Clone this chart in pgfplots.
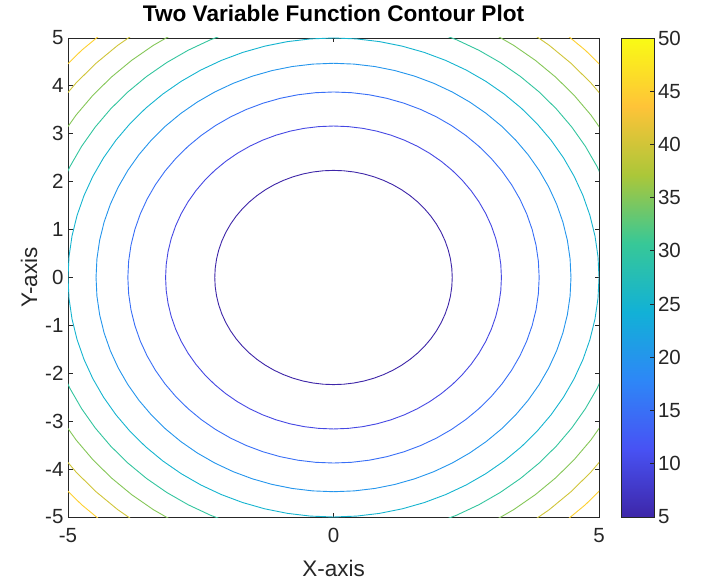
\documentclass[border=0pt]{standalone}
\usepackage{pgfplots}
\pgfplotsset{compat=1.18}
\usepackage{pgfplotstable}
\usepackage{fontspec}
\setmainfont{Liberation Sans}
\definecolor{axgray}{rgb}{0.15,0.15,0.15}
\definecolor{c5}{rgb}{0.2422,0.1504,0.6603}
\definecolor{c10}{rgb}{0.2724,0.2845,0.8918}
\definecolor{c15}{rgb}{0.2241,0.4374,0.9636}
\definecolor{c20}{rgb}{0.1421,0.5842,0.9253}
\definecolor{c25}{rgb}{0.0852,0.7047,0.8120}
\definecolor{c30}{rgb}{0.1998,0.7744,0.6197}
\definecolor{c35}{rgb}{0.5200,0.7811,0.3458}
\definecolor{c40}{rgb}{0.8162,0.7734,0.2225}
\definecolor{c45}{rgb}{0.9925,0.8143,0.1890}
\pgfplotsset{colormap={parula}{rgb=(0.2422,0.1504,0.6603) rgb=(0.2810,0.3228,0.9579) rgb=(0.1786,0.5289,0.9682) rgb=(0.0689,0.6948,0.8394) rgb=(0.2161,0.7843,0.5923) rgb=(0.6720,0.7793,0.2227) rgb=(0.9970,0.7659,0.2199) rgb=(0.9769,0.9839,0.0805)}}
% contour lines of f(x,y): angle (deg) and radius of each level (polar form)
\pgfplotstableread{
a   l5     l10    l15    l20    l25 l30    l35    l40    l45
0   2.2361 3.1623 3.8730 4.4721 5   5.4772 5.9161 6.3246 6.7082
5   2.2361 3.1623 3.8730 4.4721 5   5.4772 5.9161 6.3246 6.7082
10  2.2361 3.1623 3.8730 4.4721 5   5.4772 5.9161 6.3246 6.7082
15  2.2361 3.1623 3.8730 4.4721 5   5.4772 5.9161 6.3246 6.7082
20  2.2361 3.1623 3.8730 4.4721 5   5.4772 5.9161 6.3246 6.7082
25  2.2361 3.1623 3.8730 4.4721 5   5.4772 5.9161 6.3246 6.7082
30  2.2361 3.1623 3.8730 4.4721 5   5.4772 5.9161 6.3246 6.7082
35  2.2361 3.1623 3.8730 4.4721 5   5.4772 5.9161 6.3246 6.7082
40  2.2361 3.1623 3.8730 4.4721 5   5.4772 5.9161 6.3246 6.7082
45  2.2361 3.1623 3.8730 4.4721 5   5.4772 5.9161 6.3246 6.7082
50  2.2361 3.1623 3.8730 4.4721 5   5.4772 5.9161 6.3246 6.7082
55  2.2361 3.1623 3.8730 4.4721 5   5.4772 5.9161 6.3246 6.7082
60  2.2361 3.1623 3.8730 4.4721 5   5.4772 5.9161 6.3246 6.7082
65  2.2361 3.1623 3.8730 4.4721 5   5.4772 5.9161 6.3246 6.7082
70  2.2361 3.1623 3.8730 4.4721 5   5.4772 5.9161 6.3246 6.7082
75  2.2361 3.1623 3.8730 4.4721 5   5.4772 5.9161 6.3246 6.7082
80  2.2361 3.1623 3.8730 4.4721 5   5.4772 5.9161 6.3246 6.7082
85  2.2361 3.1623 3.8730 4.4721 5   5.4772 5.9161 6.3246 6.7082
90  2.2361 3.1623 3.8730 4.4721 5   5.4772 5.9161 6.3246 6.7082
95  2.2361 3.1623 3.8730 4.4721 5   5.4772 5.9161 6.3246 6.7082
100 2.2361 3.1623 3.8730 4.4721 5   5.4772 5.9161 6.3246 6.7082
105 2.2361 3.1623 3.8730 4.4721 5   5.4772 5.9161 6.3246 6.7082
110 2.2361 3.1623 3.8730 4.4721 5   5.4772 5.9161 6.3246 6.7082
115 2.2361 3.1623 3.8730 4.4721 5   5.4772 5.9161 6.3246 6.7082
120 2.2361 3.1623 3.8730 4.4721 5   5.4772 5.9161 6.3246 6.7082
125 2.2361 3.1623 3.8730 4.4721 5   5.4772 5.9161 6.3246 6.7082
130 2.2361 3.1623 3.8730 4.4721 5   5.4772 5.9161 6.3246 6.7082
135 2.2361 3.1623 3.8730 4.4721 5   5.4772 5.9161 6.3246 6.7082
140 2.2361 3.1623 3.8730 4.4721 5   5.4772 5.9161 6.3246 6.7082
145 2.2361 3.1623 3.8730 4.4721 5   5.4772 5.9161 6.3246 6.7082
150 2.2361 3.1623 3.8730 4.4721 5   5.4772 5.9161 6.3246 6.7082
155 2.2361 3.1623 3.8730 4.4721 5   5.4772 5.9161 6.3246 6.7082
160 2.2361 3.1623 3.8730 4.4721 5   5.4772 5.9161 6.3246 6.7082
165 2.2361 3.1623 3.8730 4.4721 5   5.4772 5.9161 6.3246 6.7082
170 2.2361 3.1623 3.8730 4.4721 5   5.4772 5.9161 6.3246 6.7082
175 2.2361 3.1623 3.8730 4.4721 5   5.4772 5.9161 6.3246 6.7082
180 2.2361 3.1623 3.8730 4.4721 5   5.4772 5.9161 6.3246 6.7082
185 2.2361 3.1623 3.8730 4.4721 5   5.4772 5.9161 6.3246 6.7082
190 2.2361 3.1623 3.8730 4.4721 5   5.4772 5.9161 6.3246 6.7082
195 2.2361 3.1623 3.8730 4.4721 5   5.4772 5.9161 6.3246 6.7082
200 2.2361 3.1623 3.8730 4.4721 5   5.4772 5.9161 6.3246 6.7082
205 2.2361 3.1623 3.8730 4.4721 5   5.4772 5.9161 6.3246 6.7082
210 2.2361 3.1623 3.8730 4.4721 5   5.4772 5.9161 6.3246 6.7082
215 2.2361 3.1623 3.8730 4.4721 5   5.4772 5.9161 6.3246 6.7082
220 2.2361 3.1623 3.8730 4.4721 5   5.4772 5.9161 6.3246 6.7082
225 2.2361 3.1623 3.8730 4.4721 5   5.4772 5.9161 6.3246 6.7082
230 2.2361 3.1623 3.8730 4.4721 5   5.4772 5.9161 6.3246 6.7082
235 2.2361 3.1623 3.8730 4.4721 5   5.4772 5.9161 6.3246 6.7082
240 2.2361 3.1623 3.8730 4.4721 5   5.4772 5.9161 6.3246 6.7082
245 2.2361 3.1623 3.8730 4.4721 5   5.4772 5.9161 6.3246 6.7082
250 2.2361 3.1623 3.8730 4.4721 5   5.4772 5.9161 6.3246 6.7082
255 2.2361 3.1623 3.8730 4.4721 5   5.4772 5.9161 6.3246 6.7082
260 2.2361 3.1623 3.8730 4.4721 5   5.4772 5.9161 6.3246 6.7082
265 2.2361 3.1623 3.8730 4.4721 5   5.4772 5.9161 6.3246 6.7082
270 2.2361 3.1623 3.8730 4.4721 5   5.4772 5.9161 6.3246 6.7082
275 2.2361 3.1623 3.8730 4.4721 5   5.4772 5.9161 6.3246 6.7082
280 2.2361 3.1623 3.8730 4.4721 5   5.4772 5.9161 6.3246 6.7082
285 2.2361 3.1623 3.8730 4.4721 5   5.4772 5.9161 6.3246 6.7082
290 2.2361 3.1623 3.8730 4.4721 5   5.4772 5.9161 6.3246 6.7082
295 2.2361 3.1623 3.8730 4.4721 5   5.4772 5.9161 6.3246 6.7082
300 2.2361 3.1623 3.8730 4.4721 5   5.4772 5.9161 6.3246 6.7082
305 2.2361 3.1623 3.8730 4.4721 5   5.4772 5.9161 6.3246 6.7082
310 2.2361 3.1623 3.8730 4.4721 5   5.4772 5.9161 6.3246 6.7082
315 2.2361 3.1623 3.8730 4.4721 5   5.4772 5.9161 6.3246 6.7082
320 2.2361 3.1623 3.8730 4.4721 5   5.4772 5.9161 6.3246 6.7082
325 2.2361 3.1623 3.8730 4.4721 5   5.4772 5.9161 6.3246 6.7082
330 2.2361 3.1623 3.8730 4.4721 5   5.4772 5.9161 6.3246 6.7082
335 2.2361 3.1623 3.8730 4.4721 5   5.4772 5.9161 6.3246 6.7082
340 2.2361 3.1623 3.8730 4.4721 5   5.4772 5.9161 6.3246 6.7082
345 2.2361 3.1623 3.8730 4.4721 5   5.4772 5.9161 6.3246 6.7082
350 2.2361 3.1623 3.8730 4.4721 5   5.4772 5.9161 6.3246 6.7082
355 2.2361 3.1623 3.8730 4.4721 5   5.4772 5.9161 6.3246 6.7082
360 2.2361 3.1623 3.8730 4.4721 5   5.4772 5.9161 6.3246 6.7082
}\levels
\begin{document}
\begin{tikzpicture}[x=1pt,y=1pt]
\useasboundingbox (0,0) rectangle (704,584);
\begin{axis}[
  at={(68pt,67pt)}, anchor=south west,
  scale only axis, width=531pt, height=479pt,
  xmin=-5, xmax=5, ymin=-5, ymax=5,
  xtick={-5,0,5}, ytick={-5,-4,...,5},
  tick align=inside, tick pos=both, major tick length=4.5pt,
  axis line style={draw=axgray, line width=0.9pt},
  every tick/.style={draw=axgray, line width=0.9pt},
  /pgf/number format/assume math mode=true,
  ticklabel style={font=\fontsize{20.5}{24}\selectfont, text=axgray},
  xticklabel style={yshift=-8pt},
  yticklabel style={xshift=-1pt},
  title={Two Variable Function Contour Plot},
  title style={font=\bfseries\fontsize{22.6}{26}\selectfont, at={(axis description cs:0.5,1)}, anchor=base, yshift=10pt},
  xlabel={X-axis}, ylabel={Y-axis},
  label style={font=\fontsize{22.5}{26}\selectfont, text=axgray},
  xlabel style={at={(axis description cs:0.5,-0.1065)}, anchor=center},
  ylabel style={at={(axis description cs:-0.0735,0.5)}, anchor=center, rotate=0},
]
\addplot[c5,  line width=0.9pt, data cs=polar] table[x=a, y=l5]  {\levels};
\addplot[c10, line width=0.9pt, data cs=polar] table[x=a, y=l10] {\levels};
\addplot[c15, line width=0.9pt, data cs=polar] table[x=a, y=l15] {\levels};
\addplot[c20, line width=0.9pt, data cs=polar] table[x=a, y=l20] {\levels};
\addplot[c25, line width=0.9pt, data cs=polar] table[x=a, y=l25] {\levels};
\addplot[c30, line width=0.9pt, data cs=polar] table[x=a, y=l30] {\levels};
\addplot[c35, line width=0.9pt, data cs=polar] table[x=a, y=l35] {\levels};
\addplot[c40, line width=0.9pt, data cs=polar] table[x=a, y=l40] {\levels};
\addplot[c45, line width=0.9pt, data cs=polar] table[x=a, y=l45] {\levels};
\end{axis}
% colour bar
\begin{axis}[
  at={(621.5pt,67pt)}, anchor=south west,
  scale only axis, width=33pt, height=479pt,
  xmin=0, xmax=1, ymin=5, ymax=50,
  xtick=\empty, ytick={5,10,...,50},
  ytick pos=right, yticklabel pos=right,
  tick align=inside, major tick length=4.5pt,
  axis on top,
  axis line style={draw=axgray, line width=0.9pt},
  every tick/.style={draw=axgray, line width=0.9pt},
  /pgf/number format/assume math mode=true,
  yticklabel style={font=\fontsize{20.5}{24}\selectfont, text=axgray},
  point meta min=5, point meta max=50,
]
\addplot[patch, shader=interp, point meta=explicit] coordinates {
  (0,5) [5] (1,5) [5] (1,50) [50]
  (0,5) [5] (1,50) [50] (0,50) [50]
};
\end{axis}
\end{tikzpicture}
\end{document}
